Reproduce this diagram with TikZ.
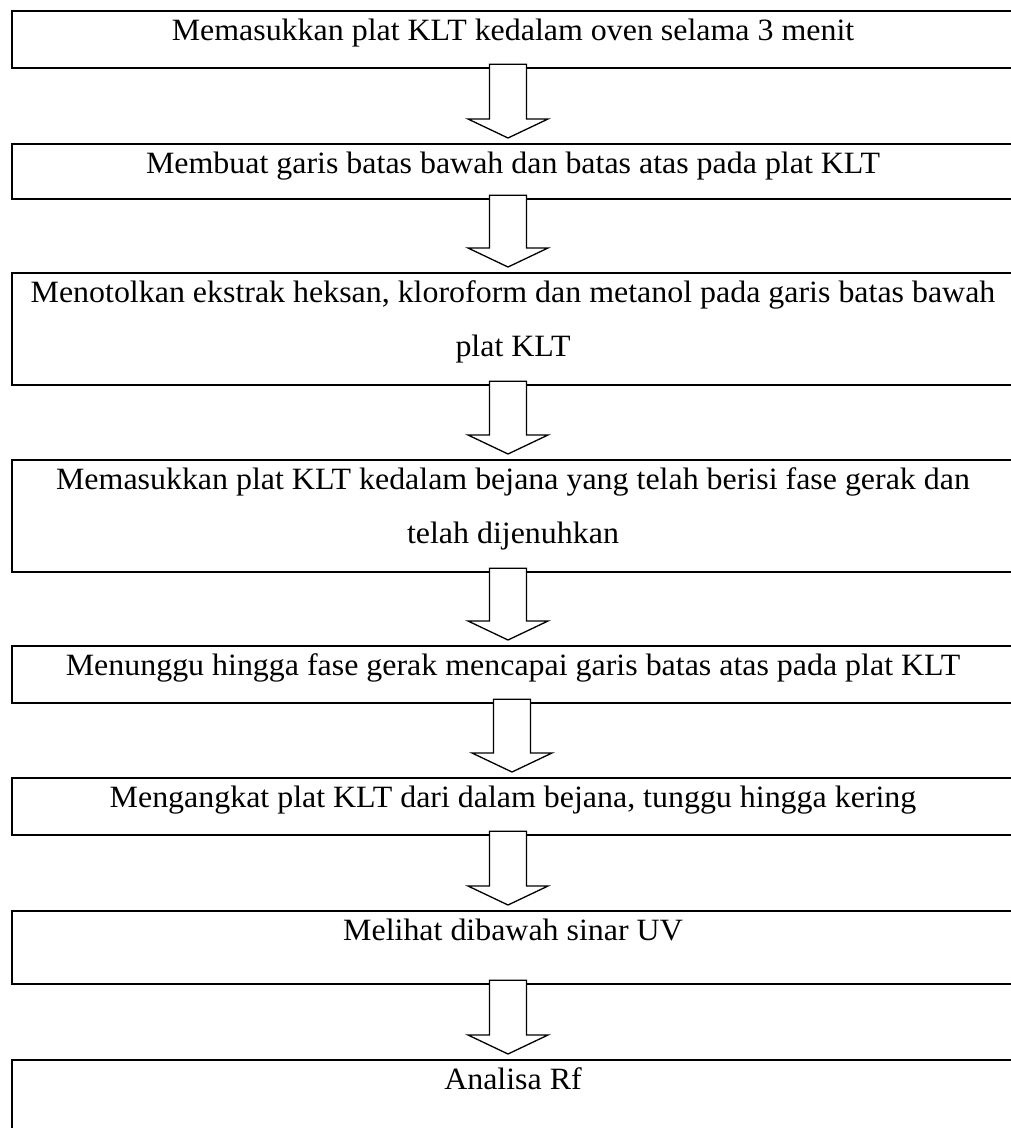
\documentclass[tikz,border=0pt]{standalone}
\usepackage{fontspec}
\setmainfont[FakeStretch=1.03]{Liberation Serif}
\usetikzlibrary{calc}

\tikzset{
	stepbox/.style={draw, line width=2.3pt, anchor=north, minimum width=1002pt,
		inner xsep=0pt, inner ysep=0pt, align=center, text height=29pt,
		font=\fontsize{31}{54}\selectfont},
	hollowarrow/.style={draw, line width=1.3pt, fill=white,
		to path={($(\tikztostart.south)+(#1-18.5,-5)$)
			-- ($(\tikztotarget.north)+(#1-18.5,-24)$)
			-- ($(\tikztotarget.north)+(#1-40,-24)$)
			-- ($(\tikztotarget.north)+(#1,-5)$)
			-- ($(\tikztotarget.north)+(#1+40,-24)$)
			-- ($(\tikztotarget.north)+(#1+18.5,-24)$)
			-- ($(\tikztostart.south)+(#1+18.5,-5)$) -- cycle}},
	hollowarrow/.default=-5
}

\begin{document}
\begin{tikzpicture}[x=1pt, y=-1pt]
	\useasboundingbox (0,0) rectangle (1011,1128);
	\node[stepbox, text depth=28pt] (a) at (513,10) {Memasukkan plat KLT kedalam oven selama 3 menit};
	\node[stepbox, text depth=26pt] (b) at (513,143) {Membuat garis batas bawah dan batas atas pada plat KLT};
	\node[stepbox, text height=83pt, text depth=29pt] (c) at (513,272) {Menotolkan ekstrak heksan, kloroform dan metanol pada garis batas bawah\\plat KLT};
	\node[stepbox, text height=83pt, text depth=29pt] (d) at (513,459) {Memasukkan plat KLT kedalam bejana yang telah berisi fase gerak dan\\telah dijenuhkan};
	\node[stepbox, text depth=28pt] (e) at (513,645) {Menunggu hingga fase gerak mencapai garis batas atas pada plat KLT};
	\node[stepbox, text depth=28pt] (f) at (513,777) {Mengangkat plat KLT dari dalam bejana, tunggu hingga kering};
	\node[stepbox, text depth=44pt] (g) at (513,910) {Melihat dibawah sinar UV};
	\node[stepbox, text depth=51pt] (h) at (513,1059) {Analisa Rf};
	\draw[hollowarrow] (a) to (b);
	\draw[hollowarrow] (b) to (c);
	\draw[hollowarrow] (c) to (d);
	\draw[hollowarrow] (d) to (e);
	\draw[hollowarrow=-1] (e) to (f);
	\draw[hollowarrow] (f) to (g);
	\draw[hollowarrow] (g) to (h);
\end{tikzpicture}
\end{document}
